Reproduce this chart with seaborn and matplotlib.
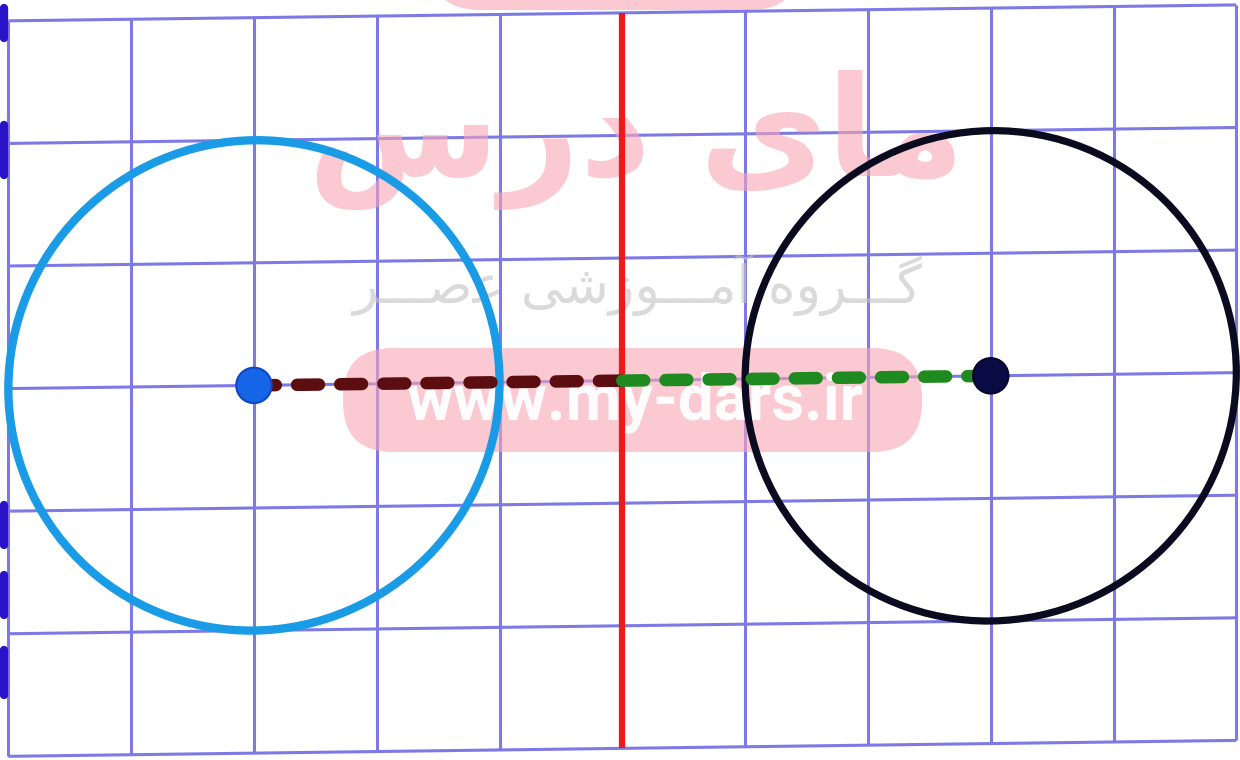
import numpy as np
import pandas as pd
import matplotlib
matplotlib.use("Agg")
import matplotlib.pyplot as plt
import seaborn as sns
from matplotlib.patches import Circle, FancyBboxPatch
from matplotlib.transforms import Affine2D, IdentityTransform

# ---------------- data ----------------
grid_cols = list(range(0, 11))          # vertical grid lines (x units)
grid_rows = list(range(0, 7))           # horizontal grid lines (y units)

circle_names = ["original", "image"]
circle_cx = [2, 8]
circle_cy = [3, 3]
circle_r = [2, 2]

mirror_x = 5
mirror_y_range = [0, 6]

seg1_x = [2, 5]
seg1_y = [3, 3]
seg2_x = [5, 8]
seg2_y = [3, 3]

wm_title = "\uFEB1\uFEAD\uFEA9 \uFEEF\uFE8E\uFEE3"   # مای درس (visual order)
wm_sub = ("\uFEAE\u0640\u0640\u0640\uFEBB\uFECB "
          "\uFEF0\uFEB7\uFEAF\uFEEE\u0640\u0640\u0640\uFEE3\uFE81 "
          "\uFEE9\uFEED\uFEAE\u0640\u0640\u0640\uFB94")   # گروه آموزشی عصر
wm_url = "www.my-dars.ir"

# ---------------- styling ----------------
sns.set_theme(style="white")
plt.rcParams['font.family'] = ['DejaVu Sans']

fig = plt.figure(figsize=(12.4, 7.6), dpi=100)
ax = fig.add_axes([0, 0, 1, 1])
XL = (-0.068, 10.03)
YL = (-0.03, 6.17)
ax.set_xlim(*XL)
ax.set_ylim(*YL)
ax.axis("off")

shear = 0.013
tr = Affine2D(np.array([[1, 0, 0], [shear, 1, 0], [0, 0, 1]])) + ax.transData
pix = IdentityTransform()

grid_color = "#7d7ae6"
for gx in grid_cols:
    ax.plot([gx, gx], [grid_rows[0], grid_rows[-1]], color=grid_color, lw=2.2,
            transform=tr, zorder=1, solid_capstyle="butt")
for gy in grid_rows:
    ax.plot([grid_cols[0], grid_cols[-1]], [gy, gy], color=grid_color, lw=2.2,
            transform=tr, zorder=1, solid_capstyle="butt")

# notebook-edge ink marks on the left border
for y0, y1 in [(8, 38), (125, 175), (505, 545), (575, 615), (650, 695)]:
    ax.plot([4, 4], [760 - y0, 760 - y1], color="#2a12c8", lw=6,
            transform=pix, zorder=1, solid_capstyle="round")

# watermark
wm_pink = "#f7a6b3"
pill = FancyBboxPatch((343 + 50, 760 - 452 + 50), 579 - 100, 104 - 100,
                      boxstyle="round,pad=50", transform=pix,
                      facecolor=wm_pink, edgecolor="none", alpha=0.6, zorder=2)
ax.add_patch(pill)
pill_top = FancyBboxPatch((430 + 50, 760 - 10 + 50), 370 - 100, 10,
                          boxstyle="round,pad=50", transform=pix,
                          facecolor=wm_pink, edgecolor="none", alpha=0.6, zorder=2)
ax.add_patch(pill_top)
ax.text(636 / 1240, 1 - 140 / 760, wm_title, fontsize=100, fontweight="bold",
        color=wm_pink, alpha=0.6, ha="center", va="center", zorder=2,
        transform=fig.transFigure, family=["DejaVu Sans"])
ax.text(637 / 1240, 1 - 285 / 760, wm_sub, fontsize=38,
        color="#c4c4c4", alpha=0.62, ha="center", va="center", zorder=2,
        transform=fig.transFigure, family=["DejaVu Sans"])
ax.text(635 / 1240, 1 - 402 / 760, wm_url, fontsize=46, fontweight="bold",
        color="white", alpha=0.95, ha="center", va="center", zorder=3,
        transform=fig.transFigure, family=["Roboto", "DejaVu Sans"])

# circles
circle_colors = ["#1a9be6", "#0b0b1f"]
circle_lw = [6.0, 5.2]
for cx, cy, r, c, lw in zip(circle_cx, circle_cy, circle_r, circle_colors, circle_lw):
    ax.add_patch(Circle((cx, cy), r, fill=False, edgecolor=c, lw=lw,
                        transform=tr, zorder=4))

# mirror line
ax.plot([mirror_x, mirror_x], mirror_y_range, color="#ee1a1a", lw=4.5,
        transform=tr, zorder=4, solid_capstyle="butt")

# dashed connecting segments
df1 = pd.DataFrame({"x": seg1_x, "y": seg1_y})
df2 = pd.DataFrame({"x": seg2_x, "y": seg2_y})
sns.lineplot(data=df1, x="x", y="y", ax=ax, color="#5c0d0f", linewidth=9,
             transform=tr, zorder=5, legend=False, sort=False)
sns.lineplot(data=df2, x="x", y="y", ax=ax, color="#1f8a1f", linewidth=9,
             transform=tr, zorder=5, legend=False, sort=False)
for ln in ax.lines[-2:]:
    ln.set_dashes((1.75, 1.7))
    ln.set_dash_capstyle("round")

# centres
centres = pd.DataFrame({"x": circle_cx, "y": circle_cy, "name": circle_names})
sns.scatterplot(data=centres, x="x", y="y", hue="name",
                palette={"original": "#1565e6", "image": "#0a0a45"},
                s=650, edgecolor=["#0d47c8", "#05052a"], linewidth=1.5,
                ax=ax, transform=tr, zorder=6, legend=False)

ax.set_xlim(*XL)
ax.set_ylim(*YL)
fig.savefig("out.png", dpi=100)
